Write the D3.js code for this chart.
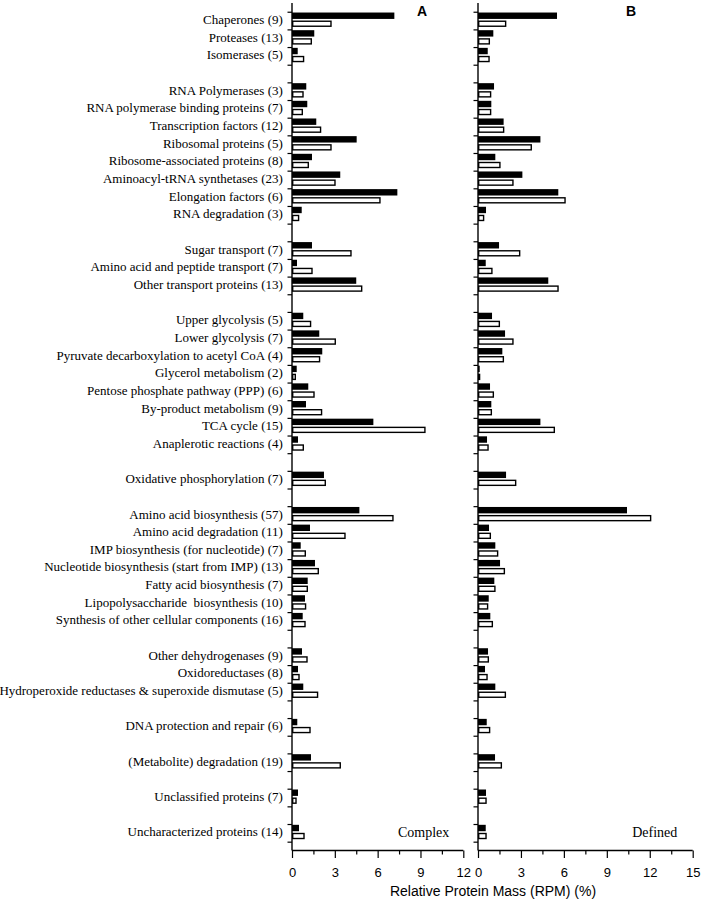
<!DOCTYPE html>
<html>
<head>
<meta charset="utf-8">
<script src="https://cdn.jsdelivr.net/npm/d3@7"></script>
<style>
  html, body { margin: 0; padding: 0; background: #fff; }
  svg { display: block; }
  .cat { font-family: "Liberation Serif", "Times New Roman", serif; font-size: 13px; white-space: pre; }
  .tick text { font-family: "Liberation Sans", Arial, sans-serif; font-size: 13px; }
</style>
</head>
<body>
<svg id="chart" width="702" height="899"></svg>
<script>
// ---------- DATA ----------
const categories = [
  "Chaperones (9)", "Proteases (13)", "Isomerases (5)",
  "RNA Polymerases (3)", "RNA polymerase binding proteins (7)", "Transcription factors (12)",
  "Ribosomal proteins (5)", "Ribosome-associated proteins (8)", "Aminoacyl-tRNA synthetases (23)",
  "Elongation factors (6)", "RNA degradation (3)",
  "Sugar transport (7)", "Amino acid and peptide transport (7)", "Other transport proteins (13)",
  "Upper glycolysis (5)", "Lower glycolysis (7)", "Pyruvate decarboxylation to acetyl CoA (4)",
  "Glycerol metabolism (2)", "Pentose phosphate pathway (PPP) (6)", "By-product metabolism (9)",
  "TCA cycle (15)", "Anaplerotic reactions (4)",
  "Oxidative phosphorylation (7)",
  "Amino acid biosynthesis (57)", "Amino acid degradation (11)", "IMP biosynthesis (for nucleotide) (7)",
  "Nucleotide biosynthesis (start from IMP) (13)", "Fatty acid biosynthesis (7)",
  "Lipopolysaccharide  biosynthesis (10)", "Synthesis of other cellular components (16)",
  "Other dehydrogenases (9)", "Oxidoreductases (8)", "Hydroperoxide reductases & superoxide dismutase (5)",
  "DNA protection and repair (6)",
  "(Metabolite) degradation (19)",
  "Unclassified proteins (7)",
  "Uncharacterized proteins (14)"
];
// indices of categories that are followed by an empty row
const groupBreaks = [2, 10, 13, 21, 22, 29, 32, 33, 34, 35];

// Panel A (Complex medium)
const complexFilled = [7.17, 1.56, 0.40, 1.00, 1.07, 1.70, 4.53, 1.40, 3.38, 7.38, 0.68,
  1.40, 0.35, 4.50, 0.79, 1.91, 2.12, 0.33, 1.14, 0.98, 5.70, 0.42, 2.24,
  4.72, 1.26, 0.61, 1.61, 1.10, 0.91, 0.75, 0.70, 0.42, 0.79, 0.37, 1.33, 0.42, 0.49];
const complexOpen = [2.78, 1.40, 0.86, 0.82, 0.77, 2.05, 2.78, 1.19, 3.06, 6.21, 0.51,
  4.18, 1.45, 4.93, 1.35, 3.08, 1.98, 0.28, 1.59, 2.12, 9.36, 0.84, 2.38,
  7.12, 3.76, 0.98, 1.89, 1.12, 1.00, 0.96, 1.10, 0.54, 1.84, 1.31, 3.43, 0.33, 0.89];
// Panel B (Defined medium)
const definedFilled = [5.52, 1.07, 0.68, 1.12, 0.93, 1.79, 4.36, 1.21, 3.10, 5.61, 0.56,
  1.47, 0.54, 4.91, 0.98, 1.89, 1.70, 0.12, 0.84, 0.93, 4.36, 0.63, 1.96,
  10.41, 0.77, 1.21, 1.54, 1.14, 0.75, 0.86, 0.70, 0.49, 1.21, 0.61, 1.19, 0.56, 0.54];
const definedOpen = [1.98, 0.84, 0.82, 0.93, 0.93, 1.84, 3.77, 1.58, 2.49, 6.13, 0.44,
  2.96, 1.02, 5.64, 1.54, 2.49, 1.82, 0.16, 1.12, 0.98, 5.38, 0.75, 2.68,
  12.11, 0.91, 1.42, 1.89, 1.23, 0.72, 1.05, 0.77, 0.68, 1.96, 0.86, 1.68, 0.61, 0.61];

const ticksA = [0, 3, 6, 9, 12];
const ticksB = [0, 3, 6, 9, 12, 15];
const panelLetters = ["A", "B"];
const mediumLabels = ["Complex", "Defined"];
const axisTitle = "Relative Protein Mass (RPM) (%)";
const seriesKeys = ["filled", "open"];

// ---------- LAYOUT ----------
const svg = d3.select("#chart");
const yTop = 2.9, yBottom = 850.5;

// build row keys (categories plus blank rows)
const rows = [];
categories.forEach((c, i) => {
  rows.push(c);
  if (groupBreaks.includes(i)) rows.push("__gap" + i);
});

const yLin = d3.scaleLinear().domain([-0.5, rows.length + 0.5]).range([yTop, yBottom]);
const y = d3.scaleBand().domain(rows).range([yLin(0), yLin(rows.length)]).paddingInner(0).paddingOuter(0);
const ySub = d3.scaleBand().domain(seriesKeys).range([0.8, 15.2]).paddingInner(0.2).paddingOuter(0);

const panels = [
  { x: d3.scaleLinear().domain([0, 12]).range([292, 463.3]), ticks: ticksA,
    filled: complexFilled, open: complexOpen, letter: panelLetters[0], letterX: 422,
    medium: mediumLabels[0], mediumX: 449.3 },
  { x: d3.scaleLinear().domain([0, 15]).range([478, 692.7]), ticks: ticksB,
    filled: definedFilled, open: definedOpen, letter: panelLetters[1], letterX: 631,
    medium: mediumLabels[1], mediumX: 677.3 }
];

const strokeW = 1.4;

panels.forEach(p => {
  const g = svg.append("g");
  const x0 = p.x(0);

  // filled bars
  g.selectAll("rect.f").data(categories).join("rect")
    .attr("class", "f")
    .attr("x", x0)
    .attr("y", c => y(c) + ySub("filled"))
    .attr("width", (c, i) => Math.max(0, p.x(p.filled[i]) - x0))
    .attr("height", ySub.bandwidth())
    .attr("fill", "#000");

  // open bars
  g.selectAll("rect.o").data(categories).join("rect")
    .attr("class", "o")
    .attr("x", x0 + strokeW / 2)
    .attr("y", c => y(c) + ySub("open") + strokeW / 2)
    .attr("width", (c, i) => Math.max(0.5, p.x(p.open[i]) - x0 - strokeW))
    .attr("height", ySub.bandwidth() - strokeW)
    .attr("fill", "#fff")
    .attr("stroke", "#000")
    .attr("stroke-width", strokeW);

  // y axis: ticks at row boundaries
  const yAxis = d3.axisLeft(yLin).tickValues(d3.range(0, rows.length + 1)).tickSize(4.5).tickFormat("");
  const ya = g.append("g").attr("transform", `translate(${x0},0)`).call(yAxis);
  ya.select(".domain").attr("d", `M0,${yTop}V${yBottom}`).attr("stroke-width", 1.4);
  ya.selectAll(".tick line").attr("stroke-width", 1.2);

  // x axis minor ticks
  const minorVals = d3.range(1.5, p.x.domain()[1], 3);
  const xMinor = d3.axisBottom(p.x).tickValues(minorVals).tickSize(4).tickFormat("");
  const xm = g.append("g").attr("transform", `translate(0,${yBottom})`).call(xMinor);
  xm.select(".domain").remove();
  xm.selectAll(".tick line").attr("stroke-width", 1.2);

  // x axis major ticks
  const xMajor = d3.axisBottom(p.x).tickValues(p.ticks).tickSize(7.5).tickPadding(9.5).tickFormat(d3.format("d"));
  const xa = g.append("g").attr("transform", `translate(0,${yBottom})`).call(xMajor);
  xa.select(".domain").attr("d", `M${p.x.range()[0]},0H${p.x.range()[1]}`).attr("stroke-width", 1.4);
  xa.selectAll(".tick line").attr("stroke-width", 1.2);
  xa.selectAll(".tick text").attr("fill", "#000");

  // panel letter
  g.append("text").attr("x", p.letterX).attr("y", 15.5).attr("text-anchor", "middle")
    .style("font-family", "Liberation Sans, Arial, sans-serif").style("font-weight", "bold")
    .style("font-size", "14px").text(p.letter);

  // medium label
  g.append("text").attr("x", p.mediumX).attr("y", 837).attr("text-anchor", "end")
    .style("font-family", "Liberation Serif, Times New Roman, serif").style("font-size", "14px")
    .text(p.medium);
});

// category labels
svg.append("g").selectAll("text").data(categories).join("text")
  .attr("class", "cat")
  .attr("x", 282.8)
  .attr("y", c => y(c) + 7.8)
  .attr("dy", "0.35em")
  .attr("text-anchor", "end")
  .text(c => c);

// axis title
svg.append("text").attr("x", 493).attr("y", 895.5).attr("text-anchor", "middle")
  .style("font-family", "Liberation Sans, Arial, sans-serif").style("font-size", "14px")
  .text(axisTitle);
</script>
</body>
</html>
